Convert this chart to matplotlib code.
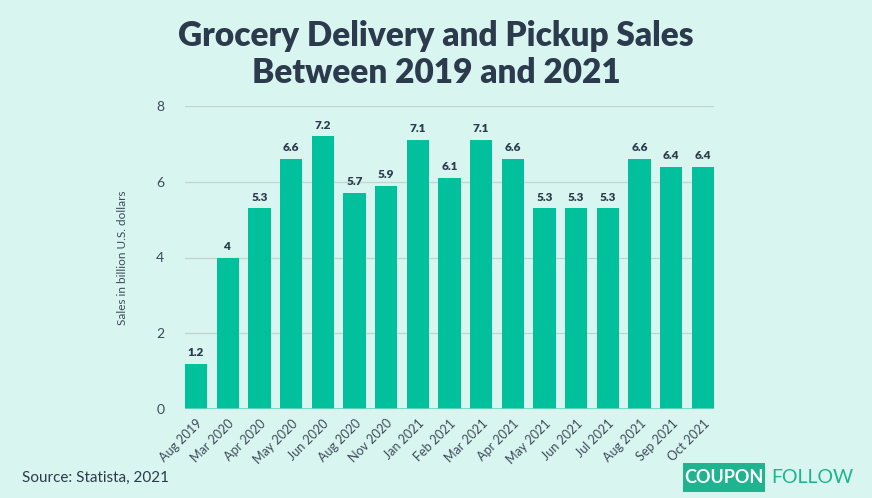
import matplotlib.pyplot as plt
from matplotlib.patches import FancyBboxPatch

months = ["Aug 2019", "Mar 2020", "Apr 2020", "May 2020", "Jun 2020", "Aug 2020",
          "Nov 2020", "Jan 2021", "Feb 2021", "Mar 2021", "Apr 2021", "May 2021",
          "Jun 2021", "Jul 2021", "Aug 2021", "Sep 2021", "Oct 2021"]
sales = [1.2, 4, 5.3, 6.6, 7.2, 5.7, 5.9, 7.1, 6.1, 7.1, 6.6, 5.3, 5.3, 5.3, 6.6, 6.4, 6.4]
yticks = [0, 2, 4, 6, 8]

bg = "#d9f5ef"
green = "#00c19b"
navy = "#2b3a4c"
plt.rcParams['font.family'] = ['Lato', 'DejaVu Sans']

fig = plt.figure(figsize=(8.72, 4.98), dpi=100, facecolor=bg)
ax = fig.add_axes([185/872, 1-409/498, 529/872, 303/498])
ax.set_facecolor(bg)

x = list(range(len(months)))
bars = ax.bar(x, sales, width=0.7, color=green, zorder=3)
for xi, v in zip(x, sales):
    lab = str(v)
    ax.text(xi, v + 0.15, lab, ha="center", va="bottom", fontsize=8.5,
            fontweight="heavy", color=navy, zorder=4)

ax.set_xlim(-0.35, len(months) - 0.65)
ax.set_ylim(0, 8)
ax.set_yticks(yticks)
ax.set_yticklabels([str(t) for t in yticks], color="#3d4a5a", fontsize=10)
ax.set_xticks(x)
ax.set_xticklabels(months, rotation=45, ha="right", rotation_mode="anchor",
                   fontsize=9, color="#3d4a5a")
ax.tick_params(axis="both", length=0)
ax.tick_params(axis="y", pad=15)
ax.tick_params(axis="x", pad=6)
ax.grid(axis="y", color="#c3d6d2", linewidth=1, zorder=0)
ax.axhline(0, color="#6fd3bd", linewidth=1.2, zorder=4)
for s in ax.spines.values():
    s.set_visible(False)
ax.set_ylabel("Sales in billion U.S. dollars", fontsize=8.5, color="#3d4a5a", labelpad=20)

fig.text(0.5, 1 - 36/498, "Grocery Delivery and Pickup Sales", ha="center", va="center",
         fontsize=24, fontweight="heavy", color=navy)
fig.text(0.5, 1 - 73/498, "Between 2019 and 2021", ha="center", va="center",
         fontsize=24, fontweight="heavy", color=navy)

fig.text(22/872, 1 - 478/498, "Source: Statista, 2021", ha="left", va="center",
         fontsize=11, color=navy)

# logo
box = FancyBboxPatch((683/872, 1 - 492/498), 82/872, 29/498,
                     boxstyle="square,pad=0", transform=fig.transFigure,
                     facecolor="#1fb38f", edgecolor="none")
fig.patches.append(box)
fig.text(724/872, 1 - 477/498, "COUPON", ha="center", va="center",
         fontsize=13, fontweight="bold", color="white")
fig.text(771/872, 1 - 477/498, "FOLLOW", ha="left", va="center",
         fontsize=14, color="#1fb38f")

fig.savefig("out.png", dpi=100, facecolor=bg)
